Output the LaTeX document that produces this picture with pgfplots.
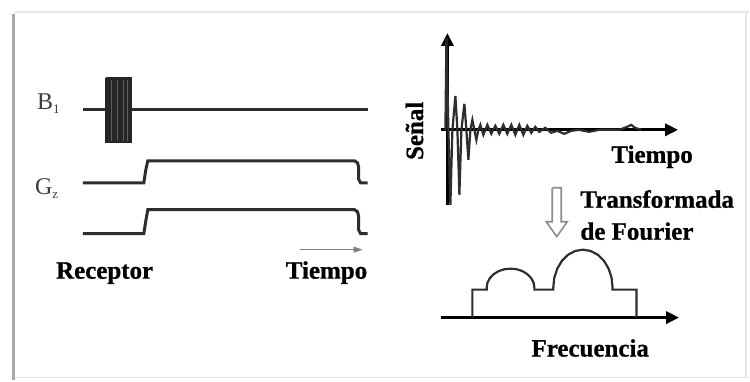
\documentclass[border=0pt]{standalone}
\usepackage{pgfplots}
\pgfplotsset{compat=1.18}
\usepackage{fontspec}
\setmainfont{Liberation Serif}
\newfontfamily\lblfont[BoldFeatures={FakeBold=0.8}]{Liberation Serif}
\usetikzlibrary{arrows.meta}

\definecolor{wave}{HTML}{2E2E2E}
\definecolor{labelgray}{HTML}{3C3C3C}
\definecolor{framegray}{HTML}{A8A8A8}
\definecolor{framelight}{HTML}{E6E6E6}
\definecolor{pulse}{HTML}{262626}
\definecolor{stripe}{HTML}{5E5E5E}
\definecolor{hollow}{HTML}{8C8C8C}

\newcommand{\bigbold}{\lblfont\bfseries\fontsize{25}{27}\selectfont}

\begin{document}
\begin{tikzpicture}
\begin{axis}[
  hide axis, scale only axis,
  width=750pt, height=381pt,
  xmin=0, xmax=750, ymin=0, ymax=381,
  y dir=reverse, clip=false,
]
\path (rel axis cs:0,0) rectangle (rel axis cs:1,1);

% ---- frame ----
\addplot[framelight, line width=2pt] coordinates {(14,12) (750,12)};
\addplot[framelight, line width=1.5pt] coordinates {(14,378) (750,378)};
\addplot[framelight, line width=1.2pt] coordinates {(747,12) (747,378)};
\addplot[framegray, line width=3pt] coordinates {(14,14) (14,381)};

% ---- pulse sequence (left) ----
% B1 line with RF pulse
\addplot[wave, line width=3pt] coordinates {(83,110) (368,110)};
\addplot[pulse, fill=pulse, line width=0.8pt] coordinates {(106,78) (132,78) (132,143) (106,143) (106,78)};
\addplot[stripe, line width=1pt] coordinates {(112,80) (112,141)};
\addplot[stripe, line width=1pt] coordinates {(118,80) (118,141)};
\addplot[stripe, line width=1pt] coordinates {(124,80) (124,141)};
\addplot[stripe, line width=0.8pt] coordinates {(128,80) (128,141)};

% Gz gradient
\addplot[wave, line width=3pt] coordinates {
  (83,183) (144,183) (146,170) (148,161) (355,161) (358,163) (359,167)
  (359,179) (361,183) (368,183)};
% receiver window
\addplot[wave, line width=3pt] coordinates {
  (83,234) (144,234) (146,221) (148,210) (355,210) (358,212) (359,216)
  (359,230) (361,234) (368,234)};

% time arrow
\addplot[gray, line width=1.3pt, -{Triangle[length=9pt,width=6pt]}]
  coordinates {(300,250) (363,250)};

\node[anchor=base west, labelgray, inner sep=0pt, font=\fontsize{24}{25}\selectfont] at (axis cs:37,110)
  {B\raisebox{-4pt}{\fontsize{13}{13}\selectfont 1}};
\node[anchor=base west, labelgray, inner sep=0pt, font=\fontsize{24}{25}\selectfont] at (axis cs:35,195)
  {G\raisebox{-4pt}{\fontsize{13}{13}\selectfont z}};

\node[anchor=base west, font=\bigbold, inner sep=0pt] at (axis cs:56,279) {Receptor};
\node[anchor=base west, font=\bigbold, inner sep=0pt] at (axis cs:286,279) {Tiempo};

% ---- FID (right top) ----
\addplot[black, line width=3.2pt, -{Triangle[length=13pt,width=12pt]}]
  coordinates {(448,205) (448,33)};
\addplot[black, line width=3.2pt, -{Triangle[length=13pt,width=12pt]}]
  coordinates {(442,130) (679,130)};
\addplot[wave, line width=2.2pt] coordinates {
  (446,130) (447,38) (449,130) (451,205) (453,130) (456,96) (458,130)
  (460,195) (462,130) (465,104) (467,130) (469,160) (471,130) (473,120)
  (475,130) (477,140) (479,130) (481,125) (484,135) (488,125) (492,134)
  (496,126) (500,134) (504,125) (508,134) (512,125) (516,135) (520,125)
  (524,135) (528,126) (532,133) (536,127) (540,132) (546,128) (552,133)
  (558,131) (565,134) (572,131) (580,130) (590,132) (600,130) (620,130)
  (628,127) (632,125) (636,128) (642,130)};

\node[rotate=90, font=\bigbold, inner sep=0pt] at (axis cs:415,131) {Señal};
\node[anchor=base west, font=\bigbold, inner sep=0pt] at (axis cs:612,163) {Tiempo};

% ---- Fourier transform arrow ----
\addplot[hollow, line width=1.6pt, fill=white] coordinates {
  (553,188) (562,188) (562,222) (568,222) (557.5,237) (547,222) (553,222) (553,188)};
\node[anchor=base west, font=\bigbold, inner sep=0pt] at (axis cs:581,208) {Transformada};
\node[anchor=base west, font=\bigbold, inner sep=0pt] at (axis cs:581,240) {de Fourier};

% ---- spectrum (right bottom) ----
\addplot[black, line width=3.2pt, -{Triangle[length=13pt,width=12pt]}]
  coordinates {(442,318) (680,318)};
\addplot[wave, line width=2.2pt] coordinates {
  (473,318) (473,290) (487.3,290) (487.3,288)
  (488.1,283.1) (490.5,278.5) (494.3,274.6) (499.2,271.5) (505.0,269.6)
  (511.2,269.0) (517.4,269.6) (523.2,271.5) (528.1,274.6) (531.9,278.5)
  (534.3,283.1) (535.1,288) (535.1,290) (554,290) (554,288)
  (555.0,278.2) (558.0,269.0) (562.7,261.1) (568.8,255.1) (576.0,251.3)
  (583.7,250.0) (591.4,251.3) (598.6,255.1) (604.7,261.1) (609.4,269.0)
  (612.4,278.2) (613.4,288) (613.4,290) (637.3,290) (637.3,318)};

\node[anchor=base west, font=\bigbold, inner sep=0pt] at (axis cs:532,357) {Frecuencia};
\end{axis}
\end{tikzpicture}
\end{document}
